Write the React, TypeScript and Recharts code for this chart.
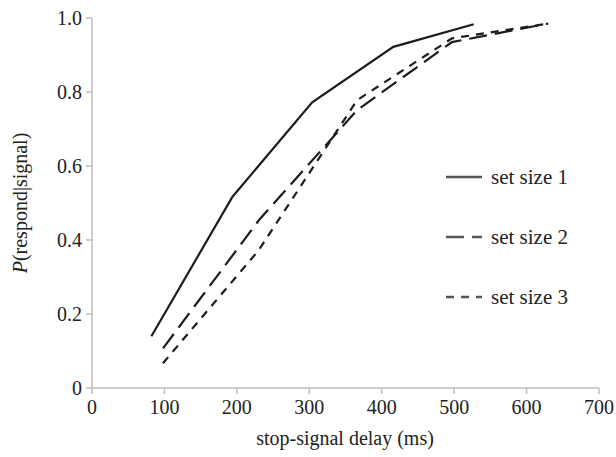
import { LineChart, Line, XAxis, YAxis, Legend, Label } from "recharts";

// stop-signal delay (ms) and P(respond|signal)
const delays1 = [82, 194, 304, 416, 527];
const respond1 = [0.14, 0.517, 0.772, 0.922, 0.983];
const delays2 = [98, 231, 366, 497, 630];
const respond2 = [0.107, 0.455, 0.751, 0.935, 0.985];
const delays3 = [98, 230, 366, 497, 630];
const respond3 = [0.067, 0.372, 0.778, 0.945, 0.985];

const xTicks = [0, 100, 200, 300, 400, 500, 600, 700];
const yTicks = [0, 0.2, 0.4, 0.6, 0.8, 1.0];

const toPoints = (xs: number[], ys: number[]) => xs.map((x, i) => ({ delay: x, p: ys[i] }));

const series = [
  { name: "set size 1", data: toPoints(delays1, respond1), dash: undefined as string | undefined },
  { name: "set size 2", data: toPoints(delays2, respond2), dash: "18 8" },
  { name: "set size 3", data: toPoints(delays3, respond3), dash: "8 7" },
];

const font = '"Liberation Serif"';
const ink = "#1c1c1c";
const axisGrey = "#bdbdbd";
const textFill = "#222";

const fontCss = `#root .fig, #root .fig * { font-family: "Liberation Serif", "Times New Roman", serif !important; }`;

function XTick(props: any) {
  const { x, y, payload } = props;
  return (
    <text x={x} y={y + 18} textAnchor="middle" fontSize={20} fill={textFill}>
      {payload.value}
    </text>
  );
}

function YTick(props: any) {
  const { x, y, payload } = props;
  const v: number = payload.value;
  return (
    <text x={x - 2} y={y + 7} textAnchor="end" fontSize={20} fill={textFill}>
      {v === 0 ? "0" : v.toFixed(1)}
    </text>
  );
}

function LegendBox() {
  return (
    <div style={{ fontSize: 21, color: textFill }}>
      {series.map((s) => (
        <div key={s.name} style={{ display: "flex", alignItems: "center", height: 60 }}>
          <svg width={36} height={6} style={{ marginRight: 9 }}>
            <line x1={0} y1={3} x2={36} y2={3} stroke="#555" strokeWidth={2.5} strokeDasharray={s.dash} />
          </svg>
          <span>{s.name}</span>
        </div>
      ))}
    </div>
  );
}

export default function App() {
  return (
    <div className="fig" style={{ position: "absolute", left: 0, top: 0, background: "#fff", fontFamily: font }}>
      <style>{fontCss}</style>
      <LineChart width={616} height={457} margin={{ top: 18, right: 17, bottom: 0, left: 0 }}>
        <XAxis
          type="number"
          dataKey="delay"
          domain={[0, 700]}
          ticks={xTicks}
          height={69}
          tick={<XTick />}
          tickSize={6}
          stroke={axisGrey}
          strokeWidth={1.5}
          allowDuplicatedCategory={false}
        >
          <Label
            content={() => (
              <text x={345} y={445} textAnchor="middle" fontSize={20} fill={textFill}>
                stop-signal delay (ms)
              </text>
            )}
          />
        </XAxis>
        <YAxis
          type="number"
          domain={[0, 1]}
          ticks={yTicks}
          width={92}
          tick={<YTick />}
          tickSize={6}
          stroke={axisGrey}
          strokeWidth={1.5}
        >
          <Label
            content={() => (
              <text
                x={20}
                y={203}
                transform="rotate(-90, 20, 203)"
                textAnchor="middle"
                dominantBaseline="central"
                fontSize={20}
                fill={textFill}
              >
                <tspan fontStyle="italic">P</tspan>
                <tspan>(respond|signal)</tspan>
              </text>
            )}
          />
        </YAxis>
        <Legend
          layout="horizontal"
          verticalAlign="middle"
          align="center"
          content={() => <LegendBox />}
          wrapperStyle={{ left: 446, top: 147, width: 160 }}
        />
        {series.map((s) => (
          <Line
            key={s.name}
            data={s.data}
            dataKey="p"
            name={s.name}
            type="linear"
            stroke={ink}
            strokeWidth={2.2}
            strokeDasharray={s.dash}
            dot={false}
            activeDot={false}
            isAnimationActive={false}
          />
        ))}
      </LineChart>
    </div>
  );
}
